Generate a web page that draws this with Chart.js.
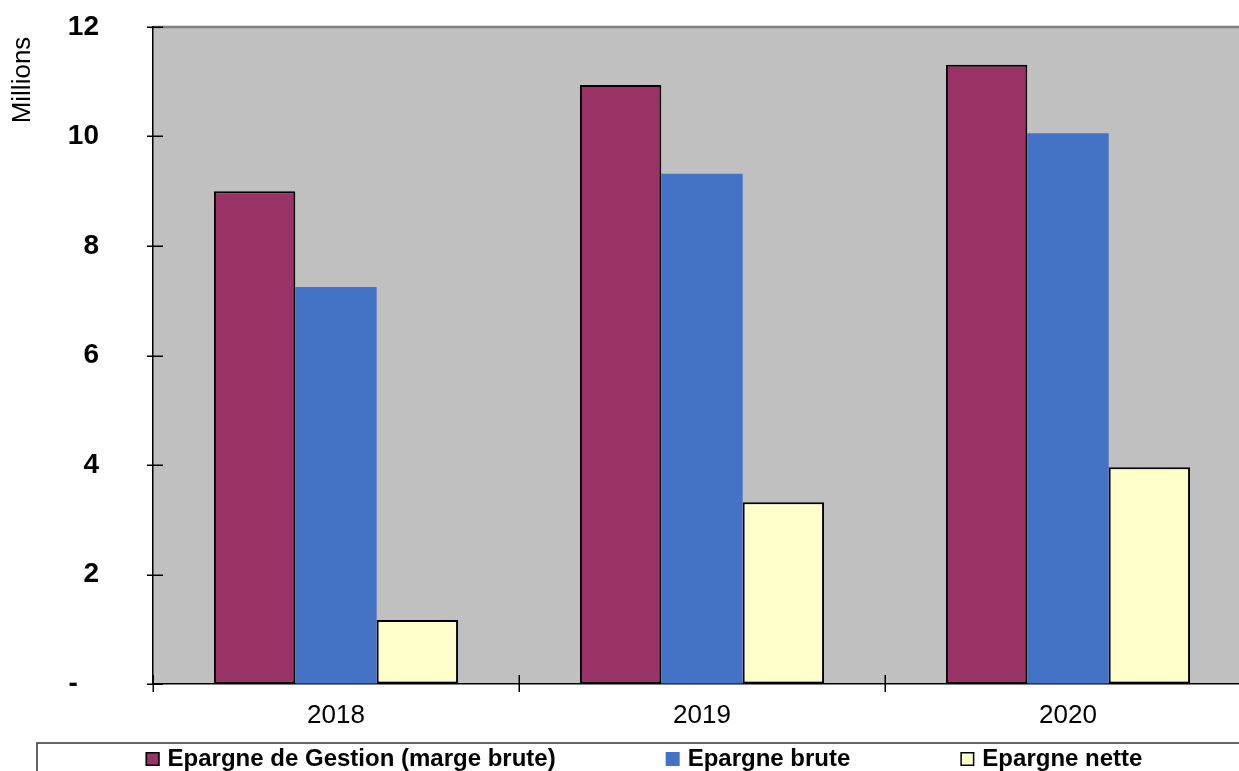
<!DOCTYPE html>
<html>
<head>
<meta charset="utf-8">
<script src="https://cdn.jsdelivr.net/npm/chart.js@4/dist/chart.umd.min.js"></script>
<style>
  html, body { margin: 0; padding: 0; background: #ffffff; overflow: hidden; }
  #wrap { width: 1260px; height: 800px; }
</style>
</head>
<body>
<div id="wrap"><canvas id="c" width="1260" height="800"></canvas></div>
<script>
const categories = ['2018', '2019', '2020'];
const seriesLabels = ['Epargne de Gestion (marge brute)', 'Epargne brute', 'Epargne nette'];
const epargneGestion = [9.00, 10.94, 11.31];
const epargneBrute = [7.25, 9.32, 10.06];
const epargneNette = [1.17, 3.32, 3.96];
const yTickLabels = ['-  \u2009', '2', '4', '6', '8', '10', '12'];
const yTickValues = [0, 2, 4, 6, 8, 10, 12];
const yTitle = 'Millions';

const FONT = '"Liberation Sans", Arial, sans-serif';
const colors = ['#993366', '#4472C4', '#FFFFCC'];
const borders = ['#000000', '#4472C4', '#000000'];

const decor = {
  id: 'decor',
  beforeDraw(chart) {
    const { ctx, chartArea: a } = chart;
    ctx.save();
    ctx.fillStyle = '#C0C0C0';
    ctx.fillRect(a.left, a.top, a.right - a.left, a.bottom - a.top);
    ctx.strokeStyle = '#808080';
    ctx.lineWidth = 2.5;
    ctx.beginPath();
    ctx.moveTo(a.left, a.top);
    ctx.lineTo(a.right, a.top);
    ctx.lineTo(a.right, a.bottom);
    ctx.stroke();
    ctx.restore();
  },
  afterDraw(chart) {
    const { ctx, chartArea: a, scales } = chart;
    ctx.save();
    // tick marks crossing the axes
    ctx.strokeStyle = '#000000';
    ctx.lineWidth = 1.5;
    ctx.beginPath();
    scales.y.ticks.forEach(t => {
      const y = Math.round(scales.y.getPixelForValue(t.value)) + 0.25;
      ctx.moveTo(a.left - 6, y);
      ctx.lineTo(a.left + 10, y);
    });
    const half = (scales.x.getPixelForValue(1) - scales.x.getPixelForValue(0)) / 2;
    for (let i = 0; i <= categories.length; i++) {
      const x = Math.round(scales.x.getPixelForValue(i) - half) + 0.25;
      ctx.moveTo(x, a.bottom - 9);
      ctx.lineTo(x, a.bottom + 8);
    }
    ctx.stroke();

    // y axis title
    ctx.save();
    ctx.translate(23, 80);
    ctx.rotate(-Math.PI / 2);
    ctx.font = '26px ' + FONT;
    ctx.fillStyle = '#000000';
    ctx.textAlign = 'center';
    ctx.textBaseline = 'middle';
    ctx.fillText(yTitle, 0, 0);
    ctx.restore();

    // legend box
    const boxLeft = 37, boxTop = 743, boxRight = a.right;
    ctx.strokeStyle = '#333333';
    ctx.lineWidth = 1.5;
    ctx.strokeRect(boxLeft, boxTop, boxRight - boxLeft, 80);

    ctx.font = 'bold 24px ' + FONT;
    ctx.textBaseline = 'alphabetic';
    ctx.textAlign = 'left';
    const marker = 14, mgap = 8, gap = 110;
    const ds = chart.data.datasets;
    const widths = ds.map(d => marker + mgap + ctx.measureText(d.label).width);
    const total = widths.reduce((s, w) => s + w, 0) + gap * (ds.length - 1);
    let x = (boxLeft + boxRight) / 2 - total / 2;
    const baseline = 766;
    ds.forEach((d, i) => {
      ctx.fillStyle = d.backgroundColor;
      ctx.fillRect(x, 752, marker, marker);
      if (d.borderColor === '#000000') {
        ctx.strokeStyle = '#000000';
        ctx.lineWidth = 1.5;
        ctx.strokeRect(x + 0.75, 752.75, marker - 1.5, marker - 1.5);
      }
      ctx.fillStyle = '#000000';
      ctx.fillText(d.label, x + marker + mgap, baseline);
      x += widths[i] + gap;
    });
    ctx.restore();
  }
};

new Chart(document.getElementById('c'), {
  type: 'bar',
  data: {
    labels: categories,
    datasets: [
      { label: seriesLabels[0], data: epargneGestion, backgroundColor: colors[0], borderColor: borders[0], borderWidth: 2, borderSkipped: false },
      { label: seriesLabels[1], data: epargneBrute, backgroundColor: colors[1], borderColor: borders[1], borderWidth: 0, borderSkipped: false },
      { label: seriesLabels[2], data: epargneNette, backgroundColor: colors[2], borderColor: borders[2], borderWidth: 2, borderSkipped: false }
    ]
  },
  options: {
    responsive: false,
    animation: false,
    devicePixelRatio: 1,
    layout: { padding: { top: 27, right: 9, bottom: 57, left: 0 } },
    datasets: { bar: { categoryPercentage: 0.667, barPercentage: 1.0 } },
    plugins: { legend: { display: false }, tooltip: { enabled: false }, title: { display: false } },
    scales: {
      x: {
        grid: { display: true, drawOnChartArea: false, drawTicks: true, tickLength: 16, tickColor: 'rgba(0,0,0,0)' },
        border: { display: true, color: '#000000', width: 1.5 },
        ticks: { color: '#000000', font: { family: FONT, size: 26 }, padding: 0 },
        afterFit(scale) { scale.height = 59; }
      },
      y: {
        min: 0, max: 12,
        afterBuildTicks(scale) { scale.ticks = yTickValues.map(v => ({ value: v })); },
        grid: { display: true, drawOnChartArea: false, drawTicks: true, tickLength: 54, tickColor: 'rgba(0,0,0,0)' },
        border: { display: true, color: '#000000', width: 1.5 },
        ticks: {
          color: '#000000',
          font: { family: FONT, size: 28, weight: 'bold' },
          padding: 0,
          callback: (v) => yTickLabels[yTickValues.indexOf(v)]
        },
        afterFit(scale) { scale.width = 153; }
      }
    }
  },
  plugins: [decor]
});
</script>
</body>
</html>
